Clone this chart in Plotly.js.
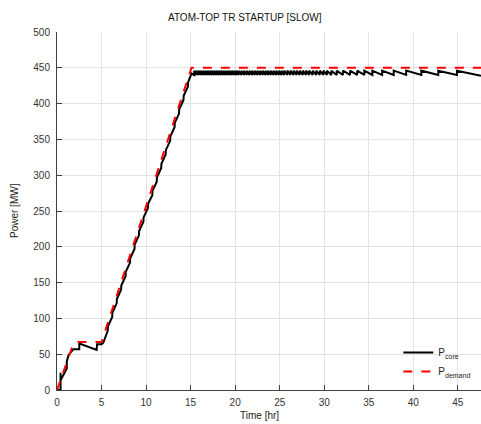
<!DOCTYPE html>
<html>
<head>
<meta charset="utf-8">
<script src="https://cdn.plot.ly/plotly-3.0.1.min.js"></script>
<style>html,body{margin:0;padding:0;background:#fff;}#chart{width:481px;height:424px;}</style>
</head>
<body>
<div id="chart"></div>
<script>
// ---- data ----
const chartTitle = "ATOM-TOP TR STARTUP [SLOW]";
const xLabel = "Time [hr]";
const yLabel = "Power [MW]";
const seriesNames = ["P<sub>core</sub>", "P<sub>demand</sub>"];

const xTicks = [0, 5, 10, 15, 20, 25, 30, 35, 40, 45];
const yTicks = [0, 50, 100, 150, 200, 250, 300, 350, 400, 450, 500];

// demand power
const tDemand = [0, 0.5, 1.3, 1.85, 2.0, 5.0, 15.1, 47.6];
const pDemand = [0, 18, 46, 65, 67, 67, 450, 450];

// core power
const tCore = [
  0, 0.4, 0.4, 0.42, 1.1, 1.1, 1.3, 1.85, 2.5, 2.5, 4.45, 4.5, 5.0, 5.2,
  5.7, 5.72, 6.2, 6.22, 6.7, 6.72, 7.2, 7.22, 7.7, 7.72, 8.2, 8.22, 8.7, 8.72,
  9.2, 9.22, 9.7, 9.72, 10.2, 10.22, 10.7, 10.72, 11.2, 11.22, 11.7, 11.72,
  12.2, 12.22, 12.7, 12.72, 13.2, 13.22, 13.7, 13.72, 14.2, 14.22, 14.7, 14.72, 15.1,
  15.4, 15.4, 15.65, 15.65, 15.9, 15.9, 16.15, 16.15, 16.4, 16.4, 16.65, 16.65,
  16.9, 16.9, 17.15, 17.15, 17.4, 17.4, 17.65, 17.65, 17.9, 17.9, 18.15, 18.15,
  18.4, 18.4, 18.65, 18.65, 18.9, 18.9, 19.15, 19.15, 19.4, 19.4, 19.65, 19.65,
  19.9, 19.9, 20.15, 20.15, 20.4, 20.4, 20.7, 20.7, 21.0, 21.0, 21.3, 21.3,
  21.6, 21.6, 21.9, 21.9, 22.2, 22.2, 22.5, 22.5, 22.8, 22.8, 23.1, 23.1,
  23.4, 23.4, 23.7, 23.7, 24.0, 24.0, 24.3, 24.3, 24.6, 24.6, 24.9, 24.9,
  25.2, 25.2, 25.5, 25.5, 25.85, 25.85, 26.2, 26.2, 26.55, 26.55, 26.9, 26.9,
  27.25, 27.25, 27.6, 27.6, 27.95, 27.95, 28.3, 28.3, 28.7, 28.7, 29.1, 29.1,
  29.5, 29.5, 29.9, 29.9, 30.3, 30.3, 30.8, 30.8, 31.4, 31.4, 32.1, 32.1,
  32.9, 32.9, 33.7, 33.7, 34.5, 34.5, 35.4, 35.4, 36.5, 36.5, 37.8, 37.8,
  39.2, 39.2, 40.9, 40.9, 42.8, 42.8, 44.9, 44.9, 47.6
];
const pCore = [
  0, 0, 24, 14, 30, 40, 49, 57, 57, 65, 56, 64, 64, 66,
  83, 89, 102, 108, 121, 127, 140, 146, 159, 165, 178, 184, 197, 203,
  216, 222, 235, 241, 254, 260, 272, 278, 291, 297, 310, 316,
  329, 335, 348, 354, 367, 373, 386, 392, 405, 411, 424, 430, 442,
  440, 446, 440, 446, 440, 446, 440, 446, 440, 446, 440, 446,
  440, 446, 440, 446, 440, 446, 440, 446, 440, 446, 440, 446,
  440, 446, 440, 446, 440, 446, 440, 446, 440, 446, 440, 446,
  440, 446, 440, 446, 440, 446, 440, 446, 440, 446, 440, 446,
  440, 446, 440, 446, 440, 446, 440, 446, 440, 446, 440, 446,
  440, 446, 440, 446, 440, 446, 440, 446, 440, 446, 440, 446,
  440, 446, 440, 446, 440, 446, 440, 446, 440, 446, 440, 446,
  440, 446, 440, 446, 440, 446, 440, 446, 440, 446, 440, 446,
  440, 446, 440, 446, 440, 446, 440, 446, 440, 446, 440, 446,
  440, 446, 440, 446, 440, 446, 440, 446, 440, 446, 440, 446,
  440, 446, 440, 446, 440, 446, 440, 446, 439
];

// ---- chart ----
const FONT = "Liberation Sans, Arial, sans-serif";
const traces = [
  { x: tCore, y: pCore, name: seriesNames[0], type: "scatter", mode: "lines",
    line: { color: "#000000", width: 2 } },
  { x: tDemand, y: pDemand, name: seriesNames[1], type: "scatter", mode: "lines",
    line: { color: "#ff0000", width: 2, dash: "dash" } }
];

const axisCommon = {
  showgrid: true, gridcolor: "#e3e3e3", gridwidth: 1,
  zeroline: false, showline: true, linecolor: "#404040", linewidth: 1,
  ticks: "inside", ticklen: 5, tickcolor: "#404040", tickwidth: 1,
  tickfont: { family: FONT, size: 10, color: "#333333" }
};

const layout = {
  width: 481, height: 424,
  margin: { l: 57, r: 0, t: 32, b: 34 },
  paper_bgcolor: "#ffffff", plot_bgcolor: "#ffffff",
  font: { family: FONT, size: 10, color: "#222222" },
  showlegend: true,
  legend: { x: 0.805, y: 0.145, xanchor: "left", yanchor: "top",
    bgcolor: "rgba(0,0,0,0)", font: { family: FONT, size: 10, color: "#222222" },
    tracegroupgap: 0 },
  xaxis: Object.assign({}, axisCommon, {
    range: [0, 47.6], tickvals: xTicks, ticktext: xTicks.map(String), ticklabelstandoff: 3
  }),
  yaxis: Object.assign({}, axisCommon, {
    range: [0, 500], tickvals: yTicks, ticktext: yTicks.map(String), ticklabelstandoff: 4
  }),
  annotations: [
    { text: chartTitle, xref: "paper", yref: "paper", x: (245 - 57) / 424, y: 1,
      yshift: 15, xanchor: "center", yanchor: "middle", showarrow: false,
      font: { family: FONT, size: 10, color: "#111111" } },
    { text: xLabel, xref: "paper", yref: "paper", x: (259 - 57) / 424, y: 0,
      yshift: -25, xanchor: "center", yanchor: "middle", showarrow: false,
      font: { family: FONT, size: 10, color: "#222222" } },
    { text: yLabel, xref: "paper", yref: "paper", x: 0, y: 0.5, xshift: -43,
      textangle: -90, xanchor: "center", yanchor: "middle", showarrow: false,
      font: { family: FONT, size: 10, color: "#222222" } }
  ]
};

Plotly.newPlot("chart", traces, layout, { staticPlot: true, displayModeBar: false });
</script>
</body>
</html>
